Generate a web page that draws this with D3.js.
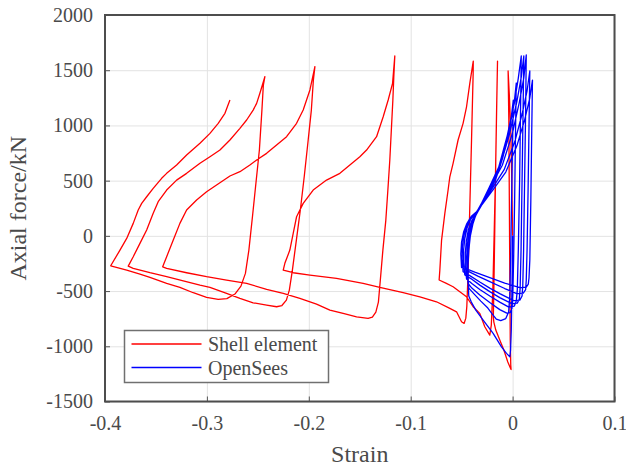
<!DOCTYPE html>
<html>
<head>
<meta charset="utf-8">
<script src="https://cdn.jsdelivr.net/npm/d3@7"></script>
<style>
  body { margin: 0; background: #fff; }
  text { font-family: "Liberation Serif", "Times New Roman", serif; fill: #4a4a4a; }
</style>
</head>
<body>
<svg id="chart" width="626" height="470"></svg>
<script>
// Axis ticks
const xTicks = [-0.4, -0.3, -0.2, -0.1, 0, 0.1];
const yTicks = [-1500, -1000, -500, 0, 500, 1000, 1500, 2000];

// Shell element model: strain / axial force (kN) history
const shellStrain = [
  0, -0.0008, -0.0018, -0.0032, -0.0044,
  -0.0037, -0.0032, -0.0027, -0.0023, -0.0018, -0.0015,
  -0.0047, -0.0086, -0.0126, -0.0165, -0.0184, -0.0189,
  -0.0184, -0.0175, -0.0165, -0.0155, -0.0148,
  -0.0157, -0.0167, -0.0180, -0.0194, -0.0209, -0.0224,
  -0.0273, -0.0322, -0.0387, -0.0452, -0.0584, -0.0655, -0.0721,
  -0.0714, -0.0697, -0.0665, -0.0633, -0.0616, -0.0584, -0.0535, -0.0486, -0.0452, -0.0420, -0.0386,
  -0.0387, -0.0403, -0.0420, -0.0437, -0.0449, -0.0459, -0.0476,
  -0.0501, -0.0550, -0.0616, -0.0747, -0.0910, -0.1074, -0.1303, -0.1467, -0.1728, -0.1989, -0.2153, -0.2251,
  -0.2235, -0.2186, -0.2153, -0.2120, -0.2055, -0.1957, -0.1826, -0.1695, -0.1597, -0.1499, -0.1433, -0.1335, -0.1270, -0.1221, -0.1178, -0.1156,
  -0.1165, -0.1175, -0.1190, -0.1205, -0.1224, -0.1244, -0.1273, -0.1298, -0.1317, -0.1342, -0.1376, -0.1418,
  -0.1531, -0.1663, -0.1793, -0.1924, -0.2088, -0.2251, -0.2414, -0.2610, -0.2807, -0.3003, -0.3199, -0.3395, -0.3434,
  -0.3395, -0.3330, -0.3265, -0.3199, -0.3101, -0.3003, -0.2905, -0.2774, -0.2676, -0.2578, -0.2512, -0.2414, -0.2316, -0.2218, -0.2120, -0.2055, -0.1989, -0.1940,
  -0.1955, -0.1975, -0.2006, -0.2043, -0.2083, -0.2122, -0.2161, -0.2191, -0.2220, -0.2264, -0.2316,
  -0.2414, -0.2546, -0.2676, -0.2807, -0.2970, -0.3068, -0.3232, -0.3395, -0.3559, -0.3723, -0.3772,
  -0.3723, -0.3657, -0.3591, -0.3527, -0.3478, -0.3395, -0.3297, -0.3199, -0.3068, -0.2970, -0.2872, -0.2774, -0.2676, -0.2610, -0.2546, -0.2512, -0.2480, -0.2431,
  -0.2446, -0.2460, -0.2485, -0.2519, -0.2553, -0.2588, -0.2622, -0.2666, -0.2725, -0.2804, -0.2889,
  -0.3003, -0.3134, -0.3265, -0.3395, -0.3559, -0.3657, -0.3787, -0.3944,
  -0.3853, -0.3787, -0.3723, -0.3674, -0.3640, -0.3591, -0.3527, -0.3444, -0.3395, -0.3297, -0.3199, -0.3068, -0.2970, -0.2889, -0.2823, -0.2774
];
const shellForce = [
  0, 505, 958, 1275, 1493,
  1049, 324, -400, -944, -1170, -1211,
  -1143, -1034, -944, -853, -781, -736,
  -491, 53, 687, 1230, 1583,
  1139, 596, 53, -491, -808, -899,
  -823, -702, -642, -552, -461, -428, -400,
  -310, -38, 204, 415, 535, 657, 868, 1019, 1169, 1381, 1583,
  1475, 868, 261, -337, -636, -745, -793,
  -778, -688, -657, -597, -552, -515, -466, -430, -385, -355, -334, -310,
  -249, -129, 23, 173, 294, 415, 505, 566, 641, 716, 777, 898, 1079, 1230, 1381, 1629,
  1457, 1230, 958, 687, 415, 143, -129, -400, -600, -690, -736, -747,
  -733, -702, -672, -618, -566, -521, -485, -430, -400, -370, -334, -294, -280,
  -189, -38, 113, 234, 324, 399, 460, 542, 581, 641, 687, 747, 822, 898, 1019, 1139, 1321, 1532,
  1411, 1139, 868, 551, 234, -38, -310, -491, -582, -631, -642,
  -627, -606, -566, -521, -466, -446, -407, -370, -334, -294, -274,
  -189, -68, 53, 204, 309, 415, 505, 566, 657, 716, 777, 868, 974, 1049, 1139, 1200, 1291, 1441,
  1366, 1139, 777, 476, 173, -129, -340, -455, -527, -568, -575,
  -557, -515, -466, -430, -376, -346, -310, -271,
  -129, -23, 113, 234, 294, 354, 430, 521, 566, 641, 732, 838, 928, 1019, 1110, 1230
];

// OpenSees fibre model: strain / axial force (kN) history
const openSeesStrain = [
  0, -0.0005, -0.0013, -0.0020, -0.0027, -0.0060, -0.0109, -0.0191, -0.0289, -0.0361, -0.0405, -0.0430,
  -0.0437, -0.0437, -0.0430, -0.0415, -0.0390, -0.0361, -0.0250, -0.0170, -0.0096, -0.0044, -0.0012, 0.0007,
  0.0000, -0.0010, -0.0020, -0.0027, -0.0039, -0.0067, -0.0116, -0.0160, -0.0199, -0.0243, -0.0312, -0.0381, -0.0430,
  -0.0439, -0.0441, -0.0435, -0.0420, -0.0395, -0.0361, -0.0241, -0.0154, -0.0075, -0.0020, 0.0017, 0.0036,
  0.0029, 0.0020, 0.0010, 0.0002, -0.0005, -0.0023, -0.0057, -0.0126, -0.0224, -0.0322, -0.0400, -0.0437,
  -0.0449, -0.0451, -0.0444, -0.0427, -0.0397, -0.0358, -0.0231, -0.0137, -0.0053, 0.0017, 0.0056, 0.0085,
  0.0078, 0.0069, 0.0056, 0.0046, 0.0036, 0.0017, -0.0037, -0.0126, -0.0224, -0.0322, -0.0400, -0.0452,
  -0.0464, -0.0464, -0.0454, -0.0435, -0.0400, -0.0356, -0.0221, -0.0122, -0.0031, 0.0041, 0.0085, 0.0110,
  0.0103, 0.0093, 0.0083, 0.0074, 0.0066, 0.0046, -0.0008, -0.0126, -0.0224, -0.0322, -0.0410, -0.0469,
  -0.0481, -0.0481, -0.0469, -0.0447, -0.0410, -0.0356, -0.0209, -0.0101, -0.0003, 0.0066, 0.0110, 0.0134,
  0.0128, 0.0118, 0.0108, 0.0100, 0.0093, 0.0071, 0.0012, -0.0126, -0.0224, -0.0322, -0.0420, -0.0486,
  -0.0495, -0.0493, -0.0479, -0.0451, -0.0412, -0.0356, -0.0198, -0.0083, 0.0022, 0.0095, 0.0142, 0.0169,
  0.0162, 0.0152, 0.0142, 0.0134, 0.0128, 0.0105, 0.0041, -0.0077, -0.0224, -0.0341, -0.0439, -0.0501,
  -0.0508, -0.0501, -0.0481, -0.0449, -0.0407, -0.0351, -0.0187, -0.0067, 0.0042, 0.0119, 0.0168, 0.0195,
  0.0188, 0.0179, 0.0169, 0.0161, 0.0154, 0.0134, 0.0071, -0.0077, -0.0224, -0.0371, -0.0459
];
const openSeesForce = [
  0, -400, -853, -1034, -1095, -1064, -1005, -883, -763, -672, -600, -545,
  -400, -264, -129, -2, 107, 188, 365, 501, 709, 918, 1085, 1230,
  868, 324, -219, -536, -690, -749, -767, -754, -708, -654, -591, -523, -473,
  -355, -237, -111, 7, 107, 184, 388, 543, 784, 1024, 1216, 1384,
  958, 324, -219, -536, -654, -695, -699, -668, -604, -536, -473, -430,
  -310, -192, -74, 34, 125, 193, 436, 620, 906, 1203, 1429, 1629,
  1139, 505, -129, -491, -591, -636, -645, -600, -545, -486, -432, -391,
  -274, -156, -47, 53, 139, 202, 447, 633, 919, 1212, 1438, 1629,
  1139, 505, -129, -473, -572, -609, -613, -559, -505, -446, -387, -355,
  -237, -129, -24, 71, 152, 211, 454, 639, 924, 1209, 1430, 1638,
  1139, 505, -129, -446, -545, -582, -586, -523, -473, -418, -360, -325,
  -210, -101, -2, 89, 161, 216, 433, 599, 854, 1110, 1314, 1493,
  1049, 415, -129, -400, -486, -518, -523, -477, -414, -364, -319, -287,
  -165, -56, 34, 111, 175, 220, 423, 578, 815, 1053, 1245, 1411,
  958, 324, -219, -382, -437, -464, -468, -428, -378, -328, -296
];

const seriesNames = ["Shell element", "OpenSees"];
const seriesColors = ["#ff0000", "#0000ff"];

const svg = d3.select("#chart");
const W = 626, H = 470;
const plot = { left: 105, right: 614.5, top: 15, bottom: 401.5 };

const x = d3.scaleLinear().domain([-0.4, 0.1]).range([plot.left, plot.right]);
const y = d3.scaleLinear().domain([-1500, 2000]).range([plot.bottom, plot.top]);

svg.append("rect").attr("width", W).attr("height", H).attr("fill", "#fff");

// Grid lines
const gridX = svg.append("g")
  .attr("transform", `translate(0,${plot.bottom})`)
  .call(d3.axisBottom(x).tickValues(xTicks).tickSize(-(plot.bottom - plot.top)).tickFormat(""));
const gridY = svg.append("g")
  .attr("transform", `translate(${plot.left},0)`)
  .call(d3.axisLeft(y).tickValues(yTicks).tickSize(-(plot.right - plot.left)).tickFormat(""));
[gridX, gridY].forEach(g => {
  g.select(".domain").remove();
  g.selectAll("line").attr("stroke", "#e3e3e3").attr("stroke-width", 1);
});

// Curves
const line = d3.line().x(d => x(d[0])).y(d => y(d[1]));
const shellPts = shellStrain.map((s, i) => [s, shellForce[i]]);
const osPts = openSeesStrain.map((s, i) => [s, openSeesForce[i]]);

svg.append("path").datum(shellPts)
  .attr("d", line).attr("fill", "none")
  .attr("stroke", seriesColors[0]).attr("stroke-width", 1.3)
  .attr("stroke-linejoin", "round");
svg.append("path").datum(osPts)
  .attr("d", line).attr("fill", "none")
  .attr("stroke", seriesColors[1]).attr("stroke-width", 1.3)
  .attr("stroke-linejoin", "round");

// Axes with inward ticks
const axX = svg.append("g")
  .attr("transform", `translate(0,${plot.bottom})`)
  .call(d3.axisBottom(x).tickValues(xTicks).tickSizeInner(-5).tickSizeOuter(0).tickPadding(14)
    .tickFormat(d => d === 0 ? "0" : d3.format(".1f")(d).replace("−", "-")));
const axY = svg.append("g")
  .attr("transform", `translate(${plot.left},0)`)
  .call(d3.axisLeft(y).tickValues(yTicks).tickSizeInner(-5).tickSizeOuter(0).tickPadding(12)
    .tickFormat(d => String(d)));
[axX, axY].forEach(g => {
  g.select(".domain").remove();
  g.selectAll("line").attr("stroke", "#555").attr("stroke-width", 1);
  g.selectAll("text").attr("font-size", 20).style("font-family", '"Liberation Serif", serif').attr("fill", "#4a4a4a");
});

// Frame
svg.append("rect")
  .attr("x", plot.left).attr("y", plot.top)
  .attr("width", plot.right - plot.left).attr("height", plot.bottom - plot.top)
  .attr("fill", "none").attr("stroke", "#4d4d4d").attr("stroke-width", 2);

// Axis titles
svg.append("text")
  .attr("x", (plot.left + plot.right) / 2).attr("y", 462)
  .attr("text-anchor", "middle").attr("font-size", 24)
  .text("Strain");
svg.append("text")
  .attr("transform", `translate(26,${(plot.top + plot.bottom) / 2}) rotate(-90)`)
  .attr("text-anchor", "middle").attr("font-size", 24)
  .text("Axial force/kN");

// Legend
const lg = svg.append("g");
lg.append("rect")
  .attr("x", 124.5).attr("y", 330.5).attr("width", 204).attr("height", 52)
  .attr("fill", "#fff").attr("stroke", "#707070").attr("stroke-width", 1.5);
seriesNames.forEach((name, i) => {
  const ly = 344 + i * 23.5;
  lg.append("line")
    .attr("x1", 131.5).attr("x2", 201.5).attr("y1", ly).attr("y2", ly)
    .attr("stroke", seriesColors[i]).attr("stroke-width", 1.3);
  lg.append("text")
    .attr("x", 208).attr("y", ly + 7).attr("font-size", 20)
    .text(name);
});
</script>
</body>
</html>
